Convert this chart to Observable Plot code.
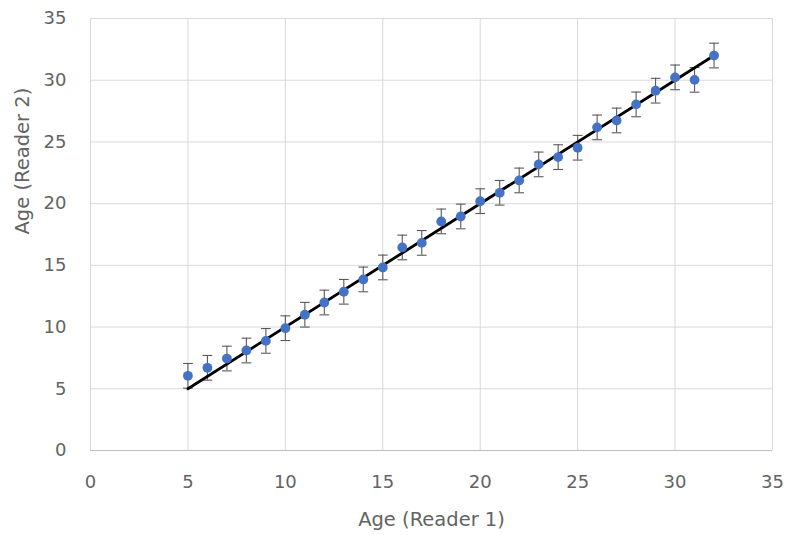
<!DOCTYPE html>
<html>
<head>
<meta charset="utf-8">
<script src="https://cdn.jsdelivr.net/npm/d3@7"></script>
<script src="https://cdn.jsdelivr.net/npm/@observablehq/plot@0.6"></script>
<style>
  html, body { margin: 0; padding: 0; background: #fff; }
</style>
</head>
<body>
<div id="chart"></div>
<script>
const reader1Ages = [5, 6, 7, 8, 9, 10, 11, 12, 13, 14, 15, 16, 17, 18, 19, 20, 21, 22, 23, 24, 25, 26, 27, 28, 29, 30, 31, 32];
const reader2Ages = [6.05, 6.7, 7.45, 8.1, 8.88, 9.91, 11.0, 11.99, 12.86, 13.86, 14.83, 16.45, 16.82, 18.56, 18.96, 20.2, 20.88, 21.88, 23.18, 23.77, 24.53, 26.18, 26.74, 28.04, 29.15, 30.23, 30.03, 32.0];
const errorValues = [1, 1, 1, 1, 1, 1, 1, 1, 1, 1, 1, 1, 1, 1, 1, 1, 1, 1, 1, 1, 1, 1, 1, 1, 1, 1, 1, 1];
const lineX = [5, 32];
const lineY = [5, 32];
const tickValues = [0, 5, 10, 15, 20, 25, 30, 35];
const xLabel = "Age (Reader 1)";
const yLabel = "Age (Reader 2)";

const points = reader1Ages.map((x, i) => ({x, y: reader2Ages[i], e: errorValues[i]}));
const line = lineX.map((x, i) => ({x, y: lineY[i]}));
const capHalf = 0.25;

const font = "DejaVu Sans";
const textColor = "#636363";

const chart = Plot.plot({
  width: 787,
  height: 535,
  marginLeft: 90,
  marginRight: 15,
  marginTop: 18,
  marginBottom: 85,
  style: {fontFamily: font, background: "#fff", overflow: "visible"},
  x: {domain: [0, 35], ticks: tickValues},
  y: {domain: [0, 35], ticks: tickValues},
  marks: [
    Plot.gridX(tickValues, {stroke: "#d9d9d9", strokeOpacity: 1, strokeWidth: 1}),
    Plot.gridY(tickValues, {stroke: "#d9d9d9", strokeOpacity: 1, strokeWidth: 1}),
    Plot.ruleY([0], {stroke: "#bfbfbf", strokeWidth: 1}),
    Plot.axisX(tickValues, {tickSize: 0, tickPadding: 25, fontSize: 18, fill: textColor, label: null}),
    Plot.axisY(tickValues, {tickSize: 0, tickPadding: 24, fontSize: 18, fill: textColor, label: null}),
    Plot.ruleX(points, {x: "x", y1: d => d.y - d.e, y2: d => d.y + d.e, stroke: "#595959", strokeWidth: 1.1}),
    Plot.link(points, {x1: d => d.x - capHalf, x2: d => d.x + capHalf, y1: d => d.y - d.e, y2: d => d.y - d.e, stroke: "#595959", strokeWidth: 1.1}),
    Plot.link(points, {x1: d => d.x - capHalf, x2: d => d.x + capHalf, y1: d => d.y + d.e, y2: d => d.y + d.e, stroke: "#595959", strokeWidth: 1.1}),
    Plot.line(line, {x: "x", y: "y", stroke: "#000", strokeWidth: 2.8}),
    Plot.dot(points, {x: "x", y: "y", r: 4.9, fill: "#4472C4", stroke: "none"}),
    Plot.text([xLabel], {text: d => d, frameAnchor: "bottom", dy: 62, lineAnchor: "top", fontSize: 19.5, fill: textColor}),
    Plot.text([yLabel], {text: d => d, frameAnchor: "left", dx: -68, rotate: -90, fontSize: 19.5, fill: textColor})
  ]
});
document.getElementById("chart").appendChild(chart);
</script>
</body>
</html>
